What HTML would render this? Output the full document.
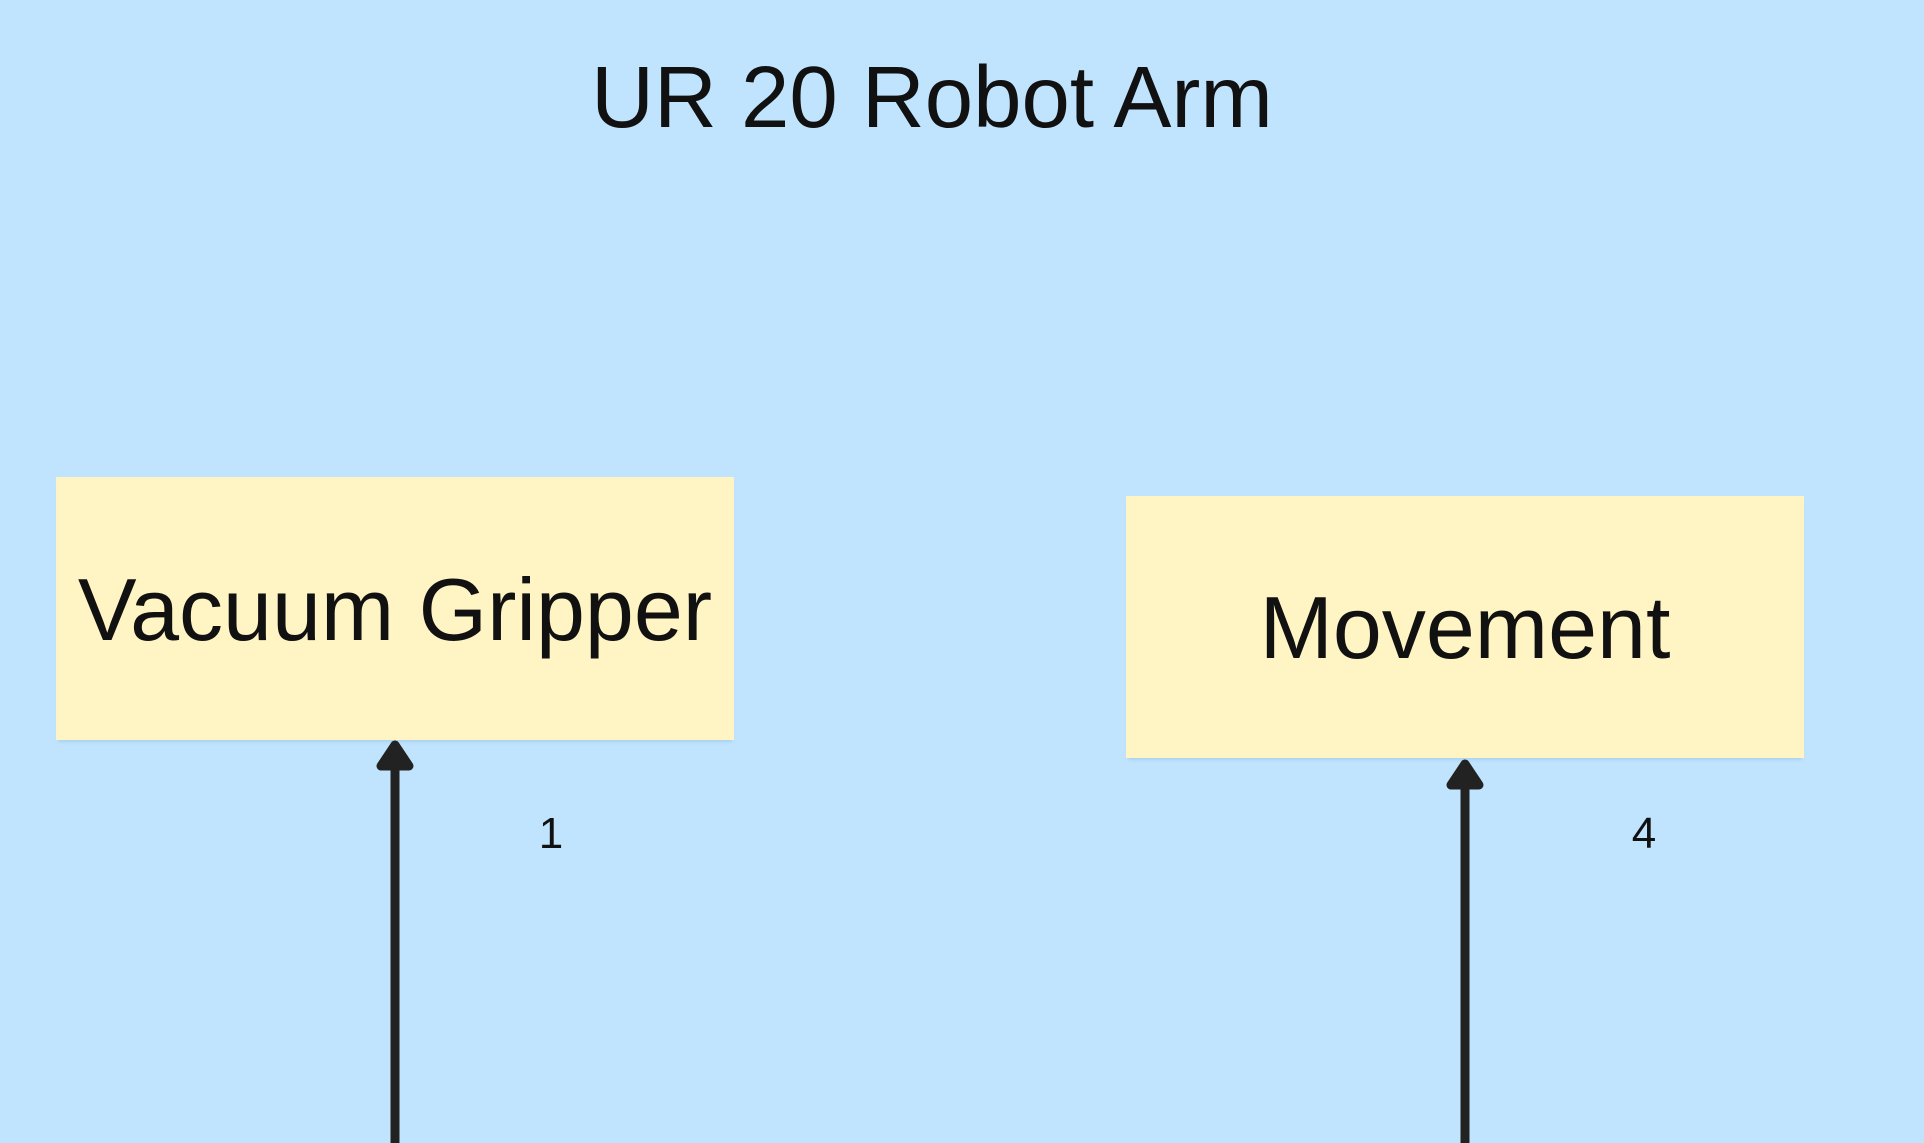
<!DOCTYPE html>
<html><head><meta charset="utf-8"><style>
html,body{margin:0;padding:0}
body{width:1924px;height:1143px;background:#c0e4fe;position:relative;overflow:hidden;font-family:"Liberation Sans",sans-serif;color:#111}
.t{position:absolute;white-space:nowrap;transform:translate(-50%,-50%)}
.box{position:absolute;background:#fff4c4;box-shadow:0 4px 3px -2px #a9d2ee}
</style></head><body>
<div class="t" style="left:932px;top:98px;font-size:87px">UR 20 Robot Arm</div>
<div class="box" style="left:56px;top:477px;width:678px;height:263px"></div>
<div class="box" style="left:1126px;top:496px;width:678px;height:262px"></div>
<div class="t" style="left:395px;top:610px;font-size:88px">Vacuum Gripper</div>
<div class="t" style="left:1465px;top:628px;font-size:88px">Movement</div>
<div class="t" style="left:551px;top:834px;font-size:44px">1</div>
<div class="t" style="left:1644px;top:834px;font-size:44px">4</div>
<svg width="1924" height="1143" style="position:absolute;left:0;top:0">
<g stroke="#222" stroke-width="9" fill="#222" stroke-linejoin="round">
<line x1="395" y1="1143" x2="395" y2="760"/>
<polygon points="395,745 381,766 409,766"/>
<line x1="1465" y1="1143" x2="1465" y2="779"/>
<polygon points="1465,764 1451,785 1479,785"/>
</g></svg>
</body></html>
